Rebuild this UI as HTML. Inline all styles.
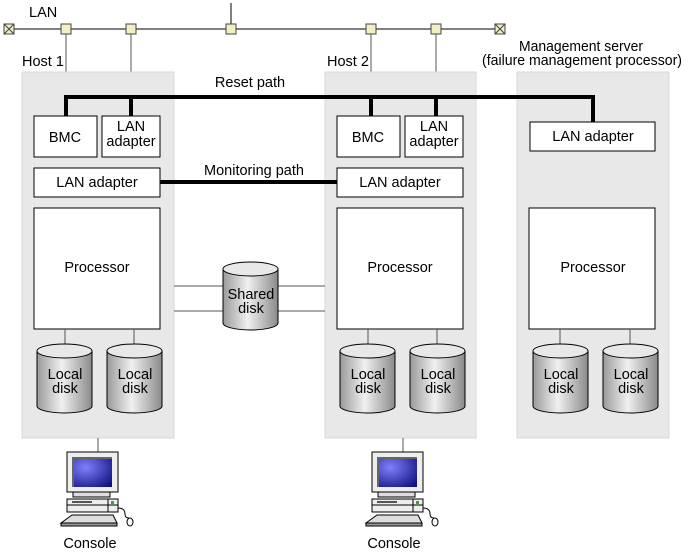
<!DOCTYPE html>
<html><head><meta charset="utf-8"><style>
html,body{margin:0;padding:0;background:#fff;}
svg{display:block;font-family:"Liberation Sans",Arial,sans-serif;font-size:14.5px;}
</style></head><body>
<svg width="684" height="555" viewBox="0 0 684 555" xmlns="http://www.w3.org/2000/svg">
<defs>
<linearGradient id="dg" x1="0" x2="1" y1="0" y2="0">
<stop offset="0" stop-color="#9a9a9a"/><stop offset="0.45" stop-color="#f0f0f0"/><stop offset="1" stop-color="#8a8a8a"/>
</linearGradient>
<radialGradient id="sg" cx="0.3" cy="0.3" r="0.9">
<stop offset="0" stop-color="#8080ff"/><stop offset="1" stop-color="#101080"/>
</radialGradient>
<g id="disk">
<path d="M0,7 L0,62 A27.5,7 0 0 0 55,62 L55,7" fill="url(#dg)" stroke="#000"/>
<ellipse cx="27.5" cy="7" rx="27.5" ry="7" fill="#e8e8e8" stroke="#000"/>
</g>
<g id="console">
<line x1="31" y1="-14" x2="31" y2="0" stroke="#555"/>
<rect x="0" y="0" width="51" height="40" fill="#eee" stroke="#000"/>
<rect x="5" y="5" width="40" height="30" fill="#666"/>
<rect x="7" y="7" width="38" height="28" fill="url(#sg)"/>
<rect x="6" y="40" width="37" height="5" fill="#ddd" stroke="#000"/>
<rect x="0" y="47" width="51" height="13" fill="#eee" stroke="#000"/>
<line x1="0" y1="53" x2="51" y2="53" stroke="#000"/>
<line x1="41" y1="47" x2="41" y2="60" stroke="#000"/>
<rect x="5" y="49" width="20" height="2" fill="#555"/>
<rect x="44" y="49" width="3" height="3" fill="#3a3"/>
<path d="M5,63 L46,63 L50,71 L-6,71 Z" fill="#ddd" stroke="#000"/>
<rect x="-6" y="71" width="56" height="3" fill="#999" stroke="#000"/>
<path d="M51,56 Q58,56 58,62 Q58,66 62,66" fill="none" stroke="#000"/>
<ellipse cx="63" cy="70" rx="3" ry="4" fill="#fff" stroke="#000"/>
</g>
<g id="node"><rect x="-5" y="-5" width="10" height="10" fill="#f0f0c0" stroke="#444"/></g>
<g id="term"><rect x="-5" y="-5" width="10" height="10" fill="#f0f0c0" stroke="#444"/><path d="M-5,-5 L5,5 M5,-5 L-5,5" stroke="#444"/></g>
</defs>

<line x1="9" y1="29" x2="500" y2="29" stroke="#000"/>
<line x1="231" y1="3" x2="231" y2="29" stroke="#000"/>
<g stroke="#555">
<line x1="66" y1="29" x2="66" y2="72"/><line x1="131" y1="29" x2="131" y2="72"/>
<line x1="371" y1="29" x2="371" y2="72"/><line x1="436" y1="29" x2="436" y2="72"/>
</g>
<use href="#term" x="9" y="29"/><use href="#term" x="500" y="29"/>
<use href="#node" x="66" y="29"/><use href="#node" x="131" y="29"/><use href="#node" x="231" y="29"/>
<use href="#node" x="371" y="29"/><use href="#node" x="436" y="29"/>
<text x="29" y="17">LAN</text>
<text x="22" y="66">Host 1</text>
<text x="327" y="66">Host 2</text>
<text x="519" y="51" textLength="124" lengthAdjust="spacingAndGlyphs">Management server</text>
<text x="482" y="65" textLength="200" lengthAdjust="spacingAndGlyphs">(failure management processor)</text>

<rect x="22" y="72" width="152" height="366" fill="#e8e8e8" stroke="#d8d8d8"/>
<rect x="325" y="72" width="151" height="366" fill="#e8e8e8" stroke="#d8d8d8"/>
<rect x="517" y="72" width="152" height="366" fill="#e8e8e8" stroke="#d8d8d8"/>

<text x="250" y="87" text-anchor="middle">Reset path</text>
<path d="M66,116 V97 H593 V122 M131,97 V116 M371,97 V116 M436,97 V116" fill="none" stroke="#000" stroke-width="4"/>
<text x="254" y="175" text-anchor="middle">Monitoring path</text>
<line x1="160" y1="182" x2="337" y2="182" stroke="#000" stroke-width="4"/>

<g fill="#fff" stroke="#000">
<rect x="34" y="116" width="63" height="41"/><rect x="102" y="116" width="58" height="41"/>
<rect x="34" y="168" width="126" height="29"/><rect x="34" y="208" width="126" height="121"/>
<rect x="337" y="116" width="63" height="41"/><rect x="405" y="116" width="58" height="41"/>
<rect x="337" y="168" width="126" height="29"/><rect x="337" y="208" width="126" height="121"/>
<rect x="530" y="122" width="125" height="29"/><rect x="529" y="208" width="126" height="121"/>
</g>
<g text-anchor="middle">
<text x="65" y="142">BMC</text><text x="131" y="131">LAN</text><text x="131" y="146">adapter</text>
<text x="97" y="187">LAN adapter</text><text x="97" y="272">Processor</text>
<text x="368" y="142">BMC</text><text x="434" y="131">LAN</text><text x="434" y="146">adapter</text>
<text x="400" y="187">LAN adapter</text><text x="400" y="272">Processor</text>
<text x="593" y="141">LAN adapter</text><text x="593" y="272">Processor</text>
</g>

<g stroke="#555">
<line x1="174" y1="286" x2="223" y2="286"/><line x1="174" y1="311" x2="223" y2="311"/>
<line x1="278" y1="286" x2="325" y2="286"/><line x1="278" y1="311" x2="325" y2="311"/>
<line x1="65" y1="329" x2="65" y2="344"/><line x1="134" y1="329" x2="134" y2="344"/>
<line x1="368" y1="329" x2="368" y2="344"/><line x1="437" y1="329" x2="437" y2="344"/>
<line x1="560" y1="329" x2="560" y2="344"/><line x1="630" y1="329" x2="630" y2="344"/>
</g>
<g transform="translate(223,262)"><path d="M0,7 L0,61 A27.5,7 0 0 0 55,61 L55,7" fill="url(#dg)" stroke="#000"/><ellipse cx="27.5" cy="7" rx="27.5" ry="7" fill="#e8e8e8" stroke="#000"/></g>
<text x="251" y="299" text-anchor="middle">Shared</text><text x="251" y="313" text-anchor="middle">disk</text>

<use href="#disk" x="37" y="344"/><use href="#disk" x="107" y="344"/>
<use href="#disk" x="340" y="344"/><use href="#disk" x="410" y="344"/>
<use href="#disk" x="533" y="344"/><use href="#disk" x="603" y="344"/>
<g text-anchor="middle">
<text x="65" y="379">Local</text><text x="65" y="393">disk</text>
<text x="135" y="379">Local</text><text x="135" y="393">disk</text>
<text x="368" y="379">Local</text><text x="368" y="393">disk</text>
<text x="438" y="379">Local</text><text x="438" y="393">disk</text>
<text x="561" y="379">Local</text><text x="561" y="393">disk</text>
<text x="631" y="379">Local</text><text x="631" y="393">disk</text>
</g>

<use href="#console" x="67" y="452"/>
<use href="#console" x="372" y="452"/>
<text x="90" y="548" text-anchor="middle">Console</text>
<text x="394" y="548" text-anchor="middle">Console</text>
</svg>
</body></html>
